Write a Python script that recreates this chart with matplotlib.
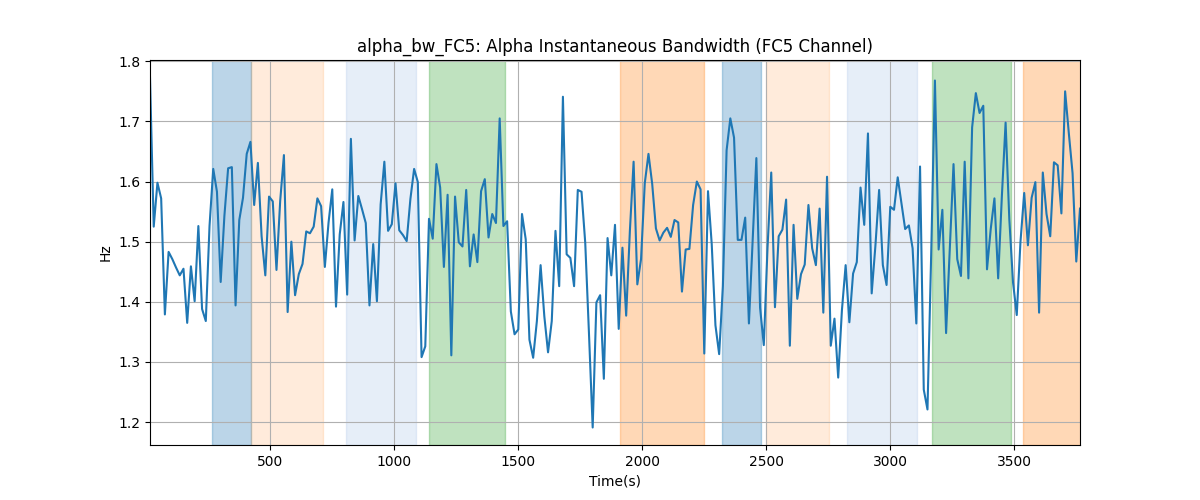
import matplotlib.pyplot as plt
import numpy as np

# sampling: one value every 15 s
T_START = 15
T_STEP = 15

bandwidth = [
    1.773, 1.525, 1.598, 1.572, 1.379, 1.483, 1.471, 1.457, 1.444, 1.455,
    1.365, 1.459, 1.401, 1.526, 1.388, 1.368, 1.526, 1.621, 1.583, 1.433,
    1.543, 1.622, 1.624, 1.394, 1.536, 1.573, 1.646, 1.666, 1.561, 1.631,
    1.509, 1.444, 1.575, 1.567, 1.453, 1.568, 1.644, 1.383, 1.500, 1.411,
    1.446, 1.463, 1.517, 1.514, 1.525, 1.572, 1.559, 1.458, 1.532, 1.587,
    1.392, 1.512, 1.566, 1.412, 1.671, 1.502, 1.576, 1.554, 1.531, 1.394,
    1.496, 1.401, 1.562, 1.633, 1.518, 1.529, 1.597, 1.519, 1.511, 1.501,
    1.571, 1.621, 1.599, 1.308, 1.326, 1.538, 1.505, 1.629, 1.590, 1.458,
    1.578, 1.311, 1.575, 1.499, 1.492, 1.586, 1.459,
    1.512, 1.466, 1.584, 1.604, 1.507, 1.546, 1.531, 1.705, 1.526, 1.534,
    1.384, 1.346, 1.354, 1.546, 1.504, 1.337, 1.307, 1.368, 1.461, 1.376,
    1.316, 1.368, 1.518, 1.426, 1.741, 1.479, 1.473, 1.426, 1.586, 1.583,
    1.498, 1.348, 1.191, 1.399, 1.411, 1.272, 1.506, 1.444, 1.528, 1.355,
    1.490, 1.377, 1.518, 1.633, 1.429, 1.471, 1.597, 1.646, 1.596, 1.522,
    1.502, 1.515, 1.523, 1.508, 1.536, 1.532, 1.417, 1.487, 1.488, 1.561,
    1.600, 1.587, 1.314, 1.584, 1.496, 1.361, 1.313, 1.426, 1.652, 1.705,
    1.673, 1.503, 1.503, 1.540, 1.364, 1.501, 1.639, 1.390, 1.328, 1.490,
    1.615, 1.391, 1.509, 1.520, 1.570, 1.327,
    1.528, 1.405, 1.446, 1.462, 1.561, 1.489, 1.461, 1.555, 1.382, 1.608,
    1.327, 1.372, 1.274, 1.386, 1.461, 1.366, 1.447, 1.466, 1.590, 1.528,
    1.680, 1.414, 1.493, 1.586, 1.461, 1.428, 1.558, 1.553, 1.607, 1.564,
    1.521, 1.527, 1.489, 1.364, 1.625, 1.254, 1.221, 1.480, 1.768, 1.487,
    1.553, 1.348, 1.487, 1.629, 1.471, 1.443, 1.633, 1.439, 1.690, 1.747,
    1.714, 1.726, 1.454, 1.521, 1.572, 1.439, 1.576, 1.698, 1.537, 1.432,
    1.378, 1.500, 1.581, 1.494, 1.573, 1.599, 1.382, 1.615, 1.546, 1.509,
    1.632, 1.627, 1.547, 1.750, 1.680, 1.614, 1.467, 1.555,
]

# shaded segments: (start, end, colour, alpha)
seg_start = [265, 421, 805, 1140, 1910, 2323, 2499, 2824, 3168, 3535]
seg_end = [421, 711, 1087, 1445, 2248, 2477, 2753, 3106, 3485, 3800]
seg_color = ['#1f77b4', '#ff7f0e', '#aec7e8', '#2ca02c', '#ff7f0e',
             '#1f77b4', '#ff7f0e', '#aec7e8', '#2ca02c', '#ff7f0e']
seg_alpha = [0.3, 0.15, 0.3, 0.3, 0.3, 0.3, 0.15, 0.3, 0.3, 0.3]


def main():
    t = T_START + T_STEP * np.arange(len(bandwidth))

    fig, ax = plt.subplots(figsize=(12, 5), dpi=100)
    for s, e, c, a in zip(seg_start, seg_end, seg_color, seg_alpha):
        ax.axvspan(s, e, color=c, alpha=a)
    ax.plot(t, bandwidth, color='#1f77b4')
    ax.set_xlim(t[0], t[-1])
    ax.set_title('alpha_bw_FC5: Alpha Instantaneous Bandwidth (FC5 Channel)')
    ax.set_xlabel('Time(s)')
    ax.set_ylabel('Hz')
    ax.grid(True)
    fig.savefig('out.png')


if __name__ == '__main__':
    main()
